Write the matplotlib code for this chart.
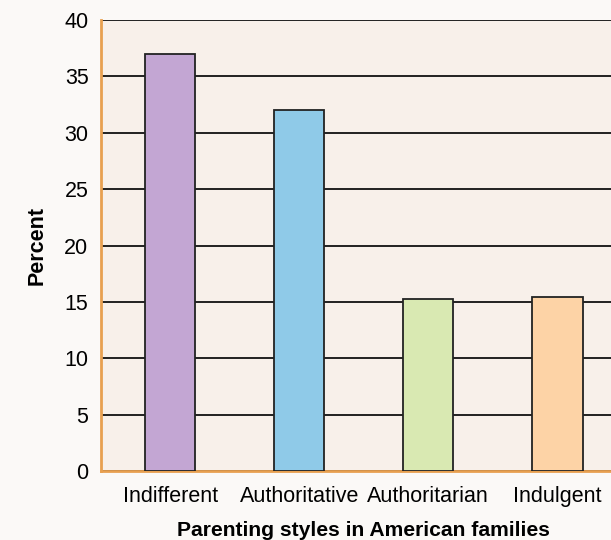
import matplotlib.pyplot as plt

styles = ['Indifferent', 'Authoritative', 'Authoritarian', 'Indulgent']
percent = [37.0, 32.0, 15.3, 15.4]
bar_colors = ['#c3a6d3', '#8fcae8', '#d9e9b2', '#fdd3a6']
y_ticks = [0, 5, 10, 15, 20, 25, 30, 35, 40]

plt.rcParams['font.family'] = ['Liberation Sans', 'DejaVu Sans']

fig = plt.figure(figsize=(6.11, 5.4), dpi=100)
fig.patch.set_facecolor('#fbf9f7')

# axes run a little past the right edge of the figure
ax = fig.add_axes([0.1653, 0.1278, 0.86, 0.835])
ax.set_facecolor('#f8f0ea')

x = list(range(len(styles)))
ax.bar(x, percent, width=0.39, color=bar_colors, edgecolor='#222222',
       linewidth=1.3, zorder=3)

ax.set_xlim(-0.535, 3.535)
ax.set_ylim(0, 40)
ax.set_yticks(y_ticks)
ax.set_xticks(x)
ax.set_xticklabels(styles)
ax.tick_params(axis='y', length=0, pad=9, labelsize=15.5)
ax.tick_params(axis='x', length=0, pad=11, labelsize=15.5)

# horizontal rules behind the bars
ax.grid(axis='y', color='#111111', linewidth=1.3, zorder=1)
ax.set_axisbelow(True)

for side in ['top', 'right']:
    ax.spines[side].set_visible(False)
ax.spines['left'].set_color('#e8a050')
ax.spines['bottom'].set_color('#e8a050')
ax.spines['left'].set_linewidth(2)
ax.spines['bottom'].set_linewidth(2)

ax.set_ylabel('Percent', fontsize=15.5, fontweight='bold', labelpad=12)
ax.set_xlabel('Parenting styles in American families', fontsize=15.2,
              fontweight='bold', labelpad=10)

fig.savefig('out.png', dpi=100, facecolor=fig.get_facecolor())
